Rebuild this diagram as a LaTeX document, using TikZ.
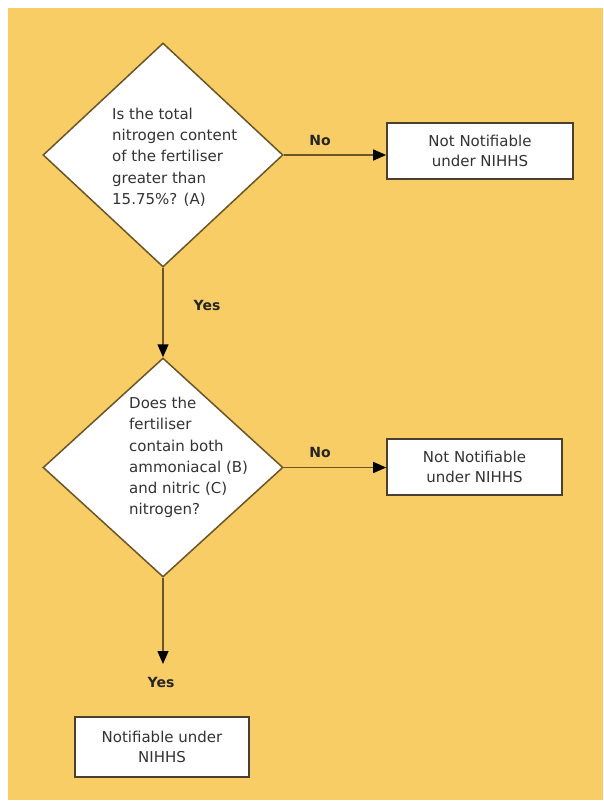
\documentclass[tikz,border=0pt]{standalone}
\usepackage{fontspec}
\setmainfont{DejaVu Sans}
\usetikzlibrary{shapes.geometric,arrows.meta}
\definecolor{bg}{HTML}{F8CD66}
\definecolor{edgec}{HTML}{6A5527}
\definecolor{boxc}{HTML}{4A4030}
\definecolor{txt}{HTML}{333333}
\begin{document}
\begin{tikzpicture}[x=1pt,y=-1pt,
  dia/.style={diamond,draw=edgec,line width=1.5pt,fill=white,inner sep=0pt,minimum width=240pt},
  box/.style={draw=boxc,line width=1.7pt,fill=white,inner sep=0pt,align=center,
    font=\fontsize{15}{20.5}\selectfont,text=txt},
  qtext/.style={align=left,font=\fontsize{15}{21.2}\selectfont,text=txt,anchor=north west,inner sep=0pt},
  lbl/.style={font=\bfseries\fontsize{14}{15}\selectfont,text=black!85,inner sep=0pt},
  arr/.style={draw=edgec,line width=1.5pt,-{Triangle[length=13pt,width=11pt,color=black]}}
]
\useasboundingbox (0,0) rectangle (603,803);
\fill[white] (0,0) rectangle (603,803);
\fill[bg] (8,8) rectangle (603,800);

\node[dia,minimum height=224pt] (d1) at (163,155) {};
\node[dia,minimum height=219pt] (d2) at (163,467.5) {};

\node[qtext] (q1) at (112,108) {Is the total\\nitrogen content\\of the fertiliser\\greater than\\15.75\%? (A)};
\node[qtext] (q2) at (129,397) {Does the\\fertiliser\\contain both\\ammoniacal (B)\\and nitric (C)\\nitrogen?};

\node[box,minimum width=186pt,minimum height=56pt] (b1) at (480,151) {Not Notifiable\\under NIHHS};
\node[box,minimum width=175pt,minimum height=56pt] (b2) at (474.5,467) {Not Notifiable\\under NIHHS};
\node[box,minimum width=174pt,minimum height=60pt] (b3) at (162,747) {Notifiable under\\NIHHS};

\coordinate (e3) at (163,664);

\draw[arr] (d1.east) -- (d1.east -| b1.west);
\draw[arr] (d2.east) -- (d2.east -| b2.west);
\draw[arr] (d1.south) -- (d2.north);
\draw[arr] (d2.south) -- (e3);

\node[lbl] (n1) at (320,140) {No};
\node[lbl] (n2) at (320,452) {No};
\node[lbl] (y1) at (207,305) {Yes};
\node[lbl] (y2) at (161,682) {Yes};
\end{tikzpicture}
\end{document}
